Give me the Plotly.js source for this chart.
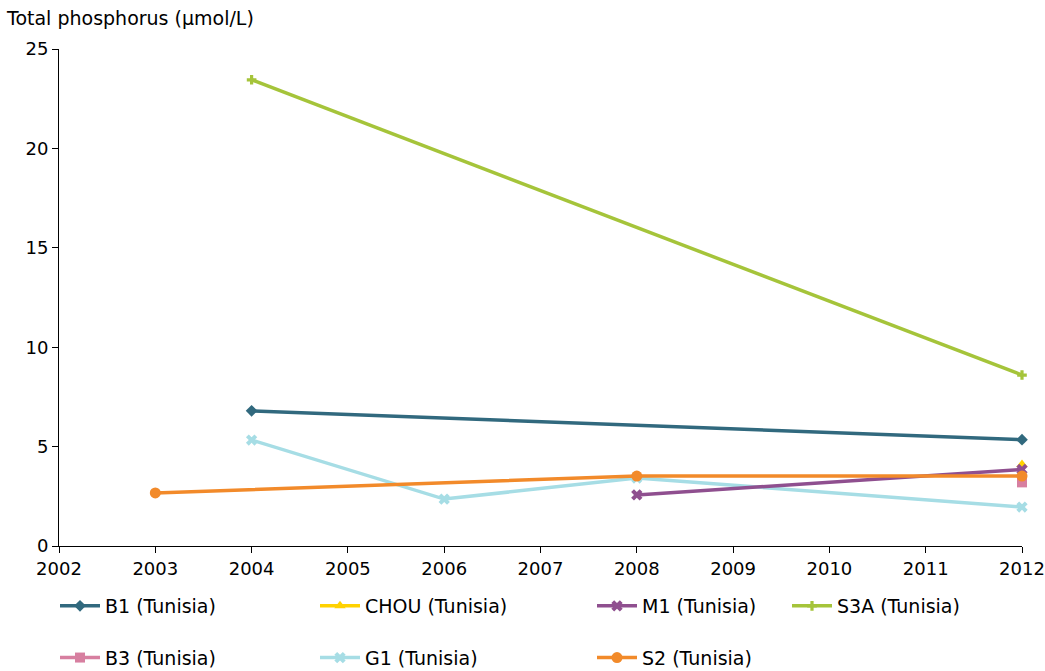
<!DOCTYPE html>
<html>
<head>
<meta charset="utf-8">
<script src="https://cdn.plot.ly/plotly-3.0.1.min.js"></script>
<style>html,body{margin:0;padding:0;background:#fff;}#chart{width:1045px;height:671px;}</style>
</head>
<body>
<div id="chart"></div>
<script>
const seriesNames = ["B1 (Tunisia)", "B3 (Tunisia)", "CHOU (Tunisia)", "G1 (Tunisia)", "M1 (Tunisia)", "S2 (Tunisia)", "S3A (Tunisia)"];
const yearsB1 = [2004, 2012];
const valuesB1 = [6.8, 5.35];
const yearsB3 = [2012];
const valuesB3 = [3.2];
const yearsCHOU = [2012];
const valuesCHOU = [4.1];
const yearsG1 = [2004, 2006, 2008, 2012];
const valuesG1 = [5.33, 2.36, 3.42, 1.96];
const yearsM1 = [2008, 2012];
const valuesM1 = [2.57, 3.85];
const yearsS2 = [2003, 2008, 2012];
const valuesS2 = [2.67, 3.52, 3.52];
const yearsS3A = [2004, 2012];
const valuesS3A = [23.45, 8.6];
const xTicks = [2002, 2003, 2004, 2005, 2006, 2007, 2008, 2009, 2010, 2011, 2012];
const yTicks = [0, 5, 10, 15, 20, 25];

const FONT = "'DejaVu Sans', Verdana, sans-serif";
const FS = 19;
const TFS = 18;
const styles = [
  {color: "#31697e", symbol: "diamond", size: 9, legend: "legend"},
  {color: "#d77fa0", symbol: "square", size: 10, legend: "legend"},
  {color: "#ffd200", symbol: "triangle-up", size: 10, legend: "legend2"},
  {color: "#a6dde5", symbol: "x", size: 10, legend: "legend2"},
  {color: "#8f4f8f", symbol: "x", size: 10, legend: "legend3"},
  {color: "#f28a2a", symbol: "circle", size: 11, legend: "legend3"},
  {color: "#a5c43a", symbol: "cross", size: 8, legend: "legend4"}
];
const xs = [yearsB1, yearsB3, yearsCHOU, yearsG1, yearsM1, yearsS2, yearsS3A];
const ys = [valuesB1, valuesB3, valuesCHOU, valuesG1, valuesM1, valuesS2, valuesS3A];

const traces = seriesNames.map((n, i) => ({
  x: xs[i], y: ys[i], name: n, type: "scatter", mode: "lines+markers",
  line: {color: styles[i].color, width: 3.5},
  marker: {color: styles[i].color, symbol: styles[i].symbol, size: styles[i].size},
  cliponaxis: false,
  legend: styles[i].legend,
  legendgroup: "g" + i
}));

function leg(xpx) {
  return {
    orientation: "v", xref: "container", yref: "container",
    x: xpx / 1045, y: 1 - 587 / 671, xanchor: "left", yanchor: "top",
    font: {family: FONT, size: FS, color: "#000"},
    itemwidth: 40, tracegroupgap: 24, bgcolor: "rgba(0,0,0,0)"
  };
}

const layout = {
  width: 1045, height: 671,
  margin: {l: 59, r: 23, t: 49, b: 125, autoexpand: false},
  paper_bgcolor: "#fff", plot_bgcolor: "#fff",
  font: {family: FONT, size: FS, color: "#000"},
  title: {text: "Total phosphorus (μmol/L)", xref: "container", yref: "container",
          x: 7 / 1045, y: 1 - 18 / 671, xanchor: "left", yanchor: "middle",
          font: {family: FONT, size: FS, color: "#000"}},
  xaxis: {range: [2002, 2012], tickvals: xTicks, ticktext: xTicks.map(String),
          showgrid: false, zeroline: false, showline: true, linecolor: "#000", linewidth: 1,
          ticks: "outside", ticklen: 6, tickcolor: "#000", tickangle: 0, automargin: false,
          tickfont: {family: FONT, size: TFS, color: "#000"}},
  yaxis: {range: [0, 25], tickvals: yTicks, ticktext: yTicks.map(String),
          showgrid: false, zeroline: false, showline: true, linecolor: "#000", linewidth: 1,
          ticks: "outside", ticklen: 6, tickcolor: "#000", automargin: false,
          tickfont: {family: FONT, size: TFS, color: "#000"}},
  showlegend: true,
  legend: leg(55),
  legend2: leg(315),
  legend3: leg(592),
  legend4: leg(787)
};

Plotly.newPlot("chart", traces, layout, {displayModeBar: false, staticPlot: true});
</script>
</body>
</html>
